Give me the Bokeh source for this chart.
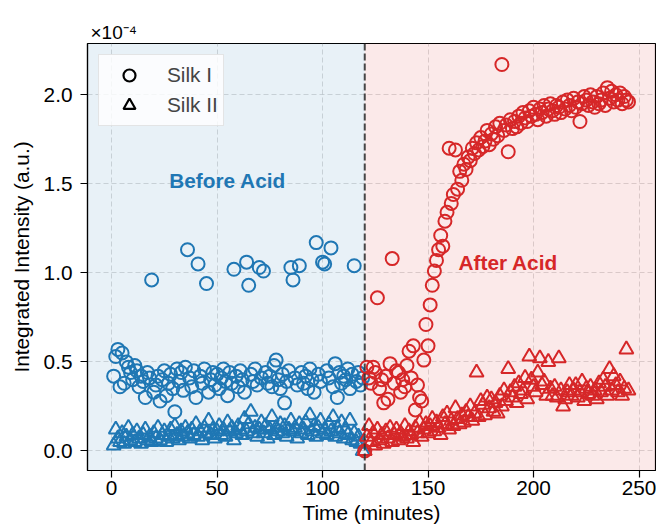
from bokeh.plotting import figure
from bokeh.models import BoxAnnotation, Span, Label, Legend, LegendItem, FixedTicker, PrintfTickFormatter
from bokeh.embed import file_html
from bokeh.resources import INLINE

# Integrated intensity values are in units of 1e-4 (a.u.)
before_time = list(range(1, 120))
after_time = list(range(120, 246))

silk1_before = [
    0.42, 0.53, 0.57, 0.36, 0.55, 0.38, 0.50, 0.47, 0.44, 0.40,
    0.48, 0.45, 0.36, 0.42, 0.39, 0.30, 0.44, 0.41, 0.96, 0.33,
    0.37, 0.42, 0.28, 0.40, 0.45, 0.31, 0.38, 0.43, 0.35, 0.22,
    0.46, 0.39, 0.44, 0.34, 0.47, 1.13, 0.41, 0.36, 0.45, 0.30,
    1.05, 0.42, 0.38, 0.46, 0.94, 0.33, 0.40, 0.44, 0.37, 0.43,
    0.35, 0.41, 0.46, 0.39, 0.31, 0.44, 0.38, 1.02, 0.42, 0.36,
    0.45, 0.40, 0.33, 1.06, 0.93, 0.43, 0.39, 0.46, 0.37, 1.03,
    0.41, 1.01, 0.44, 0.38, 0.42, 0.36, 0.48, 0.51, 0.40, 0.35,
    0.43, 0.27, 0.39, 0.45, 1.03, 0.96, 0.41, 0.37, 1.04, 0.44,
    0.38, 0.42, 0.35, 0.46, 0.40, 0.33, 1.17, 0.43, 0.39, 1.06,
    1.05, 0.45, 0.41, 1.14, 0.36, 0.49, 0.30, 0.44, 0.38, 0.42,
    0.40, 0.46, 0.35, 0.43, 1.04, 0.39, 0.44, 0.37, 0.41,
]
silk2_before = [
    0.03, 0.12, 0.07, 0.05, 0.10, 0.04, 0.08, 0.13, 0.06, 0.09,
    0.05, 0.11, 0.07, 0.04, 0.09, 0.12, 0.06, 0.08, 0.05, 0.10,
    0.07, 0.13, 0.06, 0.09, 0.11, 0.05, 0.08, 0.12, 0.07, 0.14,
    0.09, 0.06, 0.11, 0.08, 0.13, 0.10, 0.07, 0.12, 0.09, 0.15,
    0.08, 0.11, 0.06, 0.13, 0.10, 0.17, 0.09, 0.12, 0.07, 0.11,
    0.14, 0.09, 0.12, 0.08, 0.16, 0.11, 0.13, 0.06, 0.10, 0.14,
    0.12, 0.09, 0.18, 0.11, 0.15, 0.22, 0.10, 0.13, 0.08, 0.12,
    0.16, 0.10, 0.14, 0.07, 0.12, 0.19, 0.09, 0.13, 0.11, 0.15,
    0.10, 0.14, 0.08, 0.12, 0.17, 0.11, 0.13, 0.07, 0.15, 0.10,
    0.12, 0.16, 0.09, 0.20, 0.11, 0.14, 0.08, 0.13, 0.17, 0.10,
    0.12, 0.09, 0.15, 0.11, 0.19, 0.08, 0.13, 0.10, 0.16, 0.07,
    0.12, 0.09, 0.17, 0.06, 0.10, 0.05, 0.08, 0.04, 0.00,
]
silk1_after = [
    0.00, 0.47, 0.41, 0.38, 0.47, 0.44, 0.86, 0.35, 0.40, 0.27,
    0.42, 0.29, 0.49, 1.08, 0.38, 0.45, 0.44, 0.33, 0.40, 0.36,
    0.48, 0.56, 0.41, 0.59, 0.23, 0.37, 0.30, 0.28, 0.51, 0.71,
    0.59, 0.82, 0.93, 1.01, 1.07, 1.13, 1.21, 1.15, 1.29, 1.34,
    1.70, 1.39, 1.44, 1.69, 1.47, 1.57, 1.52, 1.61, 1.58, 1.65,
    1.63, 1.70, 1.67, 1.73, 1.69, 1.76, 1.71, 1.74, 1.80, 1.72,
    1.78, 1.75, 1.82, 1.77, 1.84, 2.17, 1.80, 1.83, 1.68, 1.86,
    1.81, 1.85, 1.82, 1.88, 1.84, 1.90, 1.87, 1.85, 1.91, 1.88,
    1.93, 1.89, 1.86, 1.92, 1.90, 1.94, 1.88, 1.92, 1.95, 1.91,
    1.89, 1.94, 1.93, 1.90, 1.96, 1.92, 1.97, 1.94, 1.91, 1.98,
    1.93, 1.96, 1.85, 1.95, 1.99, 1.97, 1.94, 2.00, 1.96, 1.93,
    1.99, 1.95, 1.97, 2.01, 1.94, 2.04, 1.98, 2.02, 1.96, 2.00,
    1.97, 2.01, 1.95, 1.99, 1.97, 1.96,
]
silk2_after = [
    0.00, 0.08, 0.14, 0.05, 0.10, 0.03, 0.12, 0.06, 0.09, 0.04,
    0.11, 0.07, 0.13, 0.05, 0.09, 0.12, 0.06, 0.10, 0.08, 0.14,
    0.07, 0.11, 0.09, 0.05, 0.13, 0.10, 0.16, 0.08, 0.12, 0.15,
    0.10, 0.14, 0.18, 0.11, 0.16, 0.13, 0.09, 0.19, 0.15, 0.21,
    0.12, 0.17, 0.14, 0.24, 0.18, 0.15, 0.20, 0.16, 0.22, 0.19,
    0.25, 0.17, 0.21, 0.44, 0.19, 0.28, 0.26, 0.20, 0.30, 0.24,
    0.29, 0.22, 0.27, 0.21, 0.31, 0.25, 0.34, 0.28, 0.46, 0.33,
    0.30, 0.36, 0.27, 0.38, 0.32, 0.34, 0.41, 0.29, 0.53, 0.40,
    0.36, 0.33, 0.44, 0.52, 0.37, 0.39, 0.31, 0.50, 0.35, 0.31,
    0.36, 0.30, 0.52, 0.34, 0.25, 0.29, 0.33, 0.37, 0.31, 0.34,
    0.37, 0.30, 0.33, 0.39, 0.28, 0.35, 0.32, 0.36, 0.31, 0.34,
    0.29, 0.38, 0.33, 0.40, 0.36, 0.31, 0.46, 0.34, 0.42, 0.37,
    0.33, 0.39, 0.31, 0.35, 0.57, 0.34,
]
x_ticks = [0, 50, 100, 150, 200, 250]
y_ticks = [0.0, 0.5, 1.0, 1.5, 2.0]
acid_time = 120

BLUE = "#1f77b4"
RED = "#d62728"
FONT = "Liberation Sans"
FS = "20.8px"

p = figure(width=656, height=528, x_range=(-11.4, 257.8), y_range=(-0.11, 2.288),
           output_backend="svg", toolbar_location=None,
           min_border_left=87, min_border_right=1, min_border_top=43, min_border_bottom=58)
p.background_fill_color = "white"
p.border_fill_color = "white"
p.outline_line_color = "black"
p.outline_line_width = 1.2

p.title.text = "×10⁻⁴"
p.title.align = "left"
p.title.offset = 3
p.title.standoff = 2
p.title.text_font = FONT
p.title.text_font_size = "19px"
p.title.text_font_style = "normal"
p.title.text_color = "black"

p.add_layout(BoxAnnotation(right=acid_time, fill_color=BLUE, fill_alpha=0.1, line_color=None, level="underlay"))
p.add_layout(BoxAnnotation(left=acid_time, fill_color=RED, fill_alpha=0.1, line_color=None, level="underlay"))

p.grid.grid_line_color = "#b0b0b0"
p.grid.grid_line_alpha = 0.45
p.grid.grid_line_dash = "5 3"
p.grid.grid_line_width = 1

p.xaxis.ticker = FixedTicker(ticks=x_ticks)
p.yaxis.ticker = FixedTicker(ticks=y_ticks)
p.yaxis.formatter = PrintfTickFormatter(format="%.1f")
for ax in (p.xaxis, p.yaxis):
    ax.axis_line_color = "black"
    ax.axis_line_width = 1.2
    ax.major_tick_line_color = "black"
    ax.major_tick_line_width = 1.2
    ax.major_tick_out = 7
    ax.major_tick_in = 0
    ax.minor_tick_line_color = None
    ax.major_label_text_font = FONT
    ax.major_label_text_font_size = FS
    ax.major_label_text_color = "black"
    ax.axis_label_text_font = FONT
    ax.axis_label_text_font_size = FS
    ax.axis_label_text_font_style = "normal"
    ax.axis_label_text_color = "black"
p.xaxis.axis_label = "Time (minutes)"
p.yaxis.axis_label = "Integrated Intensity (a.u.)"
p.xaxis.major_label_standoff = 3
p.xaxis.axis_label_standoff = 3
p.yaxis.major_label_standoff = 8
p.yaxis.axis_label_standoff = 8

p.scatter(before_time, silk1_before, marker="circle", size=13, fill_color=None, line_color=BLUE, line_width=2)
p.scatter(before_time, silk2_before, marker="triangle", size=14, fill_color=None, line_color=BLUE, line_width=2)
p.scatter(after_time, silk1_after, marker="circle", size=13, fill_color=None, line_color=RED, line_width=2)
p.scatter(after_time, silk2_after, marker="triangle", size=14, fill_color=None, line_color=RED, line_width=2)

p.add_layout(Span(location=acid_time, dimension="height", line_color="#333333", line_alpha=0.9,
                  line_width=2, line_dash="7 3"))

p.add_layout(Label(x=55, y=1.52, text="Before Acid", text_color=BLUE, text_font=FONT,
                   text_font_size=FS, text_font_style="bold", text_align="center", text_baseline="middle"))
p.add_layout(Label(x=188, y=1.06, text="After Acid", text_color=RED, text_font=FONT,
                   text_font_size=FS, text_font_style="bold", text_align="center", text_baseline="middle"))

# legend-only renderers (single point placed outside the visible ranges)
lg1 = p.scatter([-100], [-100], marker="circle", size=13, fill_color=None, line_color="black", line_width=2.2)
lg2 = p.scatter([-100], [-100], marker="triangle", size=14, fill_color=None, line_color="black", line_width=2.2)
legend = Legend(items=[LegendItem(label="Silk I", renderers=[lg1]),
                       LegendItem(label="Silk II", renderers=[lg2])],
                location="top_left", margin=11, padding=5, spacing=0,
                glyph_width=50, glyph_height=30, label_standoff=13,
                label_text_font=FONT, label_text_font_size=FS,
                border_line_color="#cccccc", border_line_width=1.2,
                background_fill_color="white", background_fill_alpha=0.8)
p.add_layout(legend)

open("out.html", "w").write(file_html(p, INLINE))
